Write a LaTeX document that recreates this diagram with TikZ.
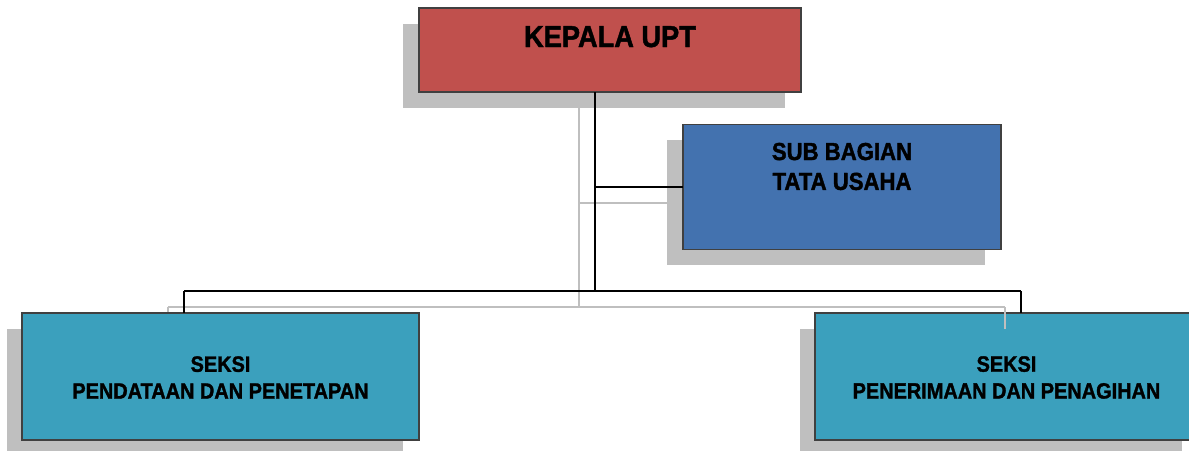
\documentclass[tikz,border=0pt]{standalone}
\usepackage{fontspec}
\setmainfont[FakeStretch=0.9, BoldFeatures={FakeBold=1.5}]{Liberation Sans}
\definecolor{kepred}{HTML}{C0504D}
\definecolor{subblue}{HTML}{4372AF}
\definecolor{seksiteal}{HTML}{3BA0BD}
\definecolor{bordergray}{HTML}{404040}
\definecolor{shadowgray}{HTML}{BFBFBF}
\tikzset{
  orgbox/.style={draw=bordergray, line width=0.85pt, inner sep=0pt, outer sep=0pt, rectangle},
  shadowfill/.style={fill=shadowgray},
  shadowline/.style={draw=shadowgray, line width=0.9pt},
  conn/.style={draw=black, line width=1.1pt},
  lbl/.style={inner sep=0pt, align=center, text=black}
}
\begin{document}
\begin{tikzpicture}[x=0.02cm,y=-0.02cm]
\useasboundingbox (0,0) rectangle (1189,450);
\clip (0,0) rectangle (1189,450);
% shadows of boxes
\fill[shadowfill] (403,24) rectangle (785,108);
\fill[shadowfill] (667,140) rectangle (985,265);
\fill[shadowfill] (7,329) rectangle (403,456);
\fill[shadowfill] (800,329) rectangle (1182,456);
% shadows of connectors
\coordinate (gj) at (579,307);
\coordinate (gl) at (168,307);
\coordinate (gr) at (1005,307);
\draw[shadowline] (579,108) -- (gj);
\draw[shadowline] (579,203) -- (667,203);
\draw[shadowline] (gl) -- (gr);
\draw[shadowline] (gl) -- (168,329);
% boxes
\node[orgbox, fill=kepred, minimum width=382*0.02cm, minimum height=84*0.02cm] (kepala) at (610,50) {};
\node[orgbox, fill=subblue, minimum width=318*0.02cm, minimum height=125*0.02cm] (sub) at (842,187) {};
% connectors
\coordinate (j) at (595,291);
\coordinate (jl) at (184,291);
\coordinate (jr) at (1021,291);
\draw[conn] (kepala.south -| j) -- (j);
\draw[conn] (j |- sub.west) -- (sub.west);
\draw[conn] (jl) -- (jr);
\node[orgbox, fill=seksiteal, minimum width=397*0.02cm, minimum height=127*0.02cm] (left) at (220.5,376.5) {};
\node[orgbox, fill=seksiteal, minimum width=383*0.02cm, minimum height=127*0.02cm] (right) at (1006.5,376.5) {};
\draw[conn] (jl) -- (jl |- left.north);
\draw[conn] (jr) -- (jr |- right.north);
\draw[shadowline] (gr) -- (1005,329);
% labels
\node[lbl, anchor=base, font=\fontsize{17.2}{20}\selectfont\bfseries] (kepalatxt) at (610,47) {KEPALA UPT};
\node[lbl, font=\fontsize{14}{17}\selectfont\bfseries] (subtxt) at (842,166.5) {SUB BAGIAN\\TATA USAHA};
\node[lbl, font=\fontsize{12.6}{15.3}\selectfont\bfseries] (lefttxt) at (220.5,377.5) {SEKSI\\PENDATAAN DAN PENETAPAN};
\node[lbl, font=\fontsize{12.6}{15.3}\selectfont\bfseries] (righttxt) at (1006.5,377.5) {SEKSI\\PENERIMAAN DAN PENAGIHAN};
\end{tikzpicture}
\end{document}
